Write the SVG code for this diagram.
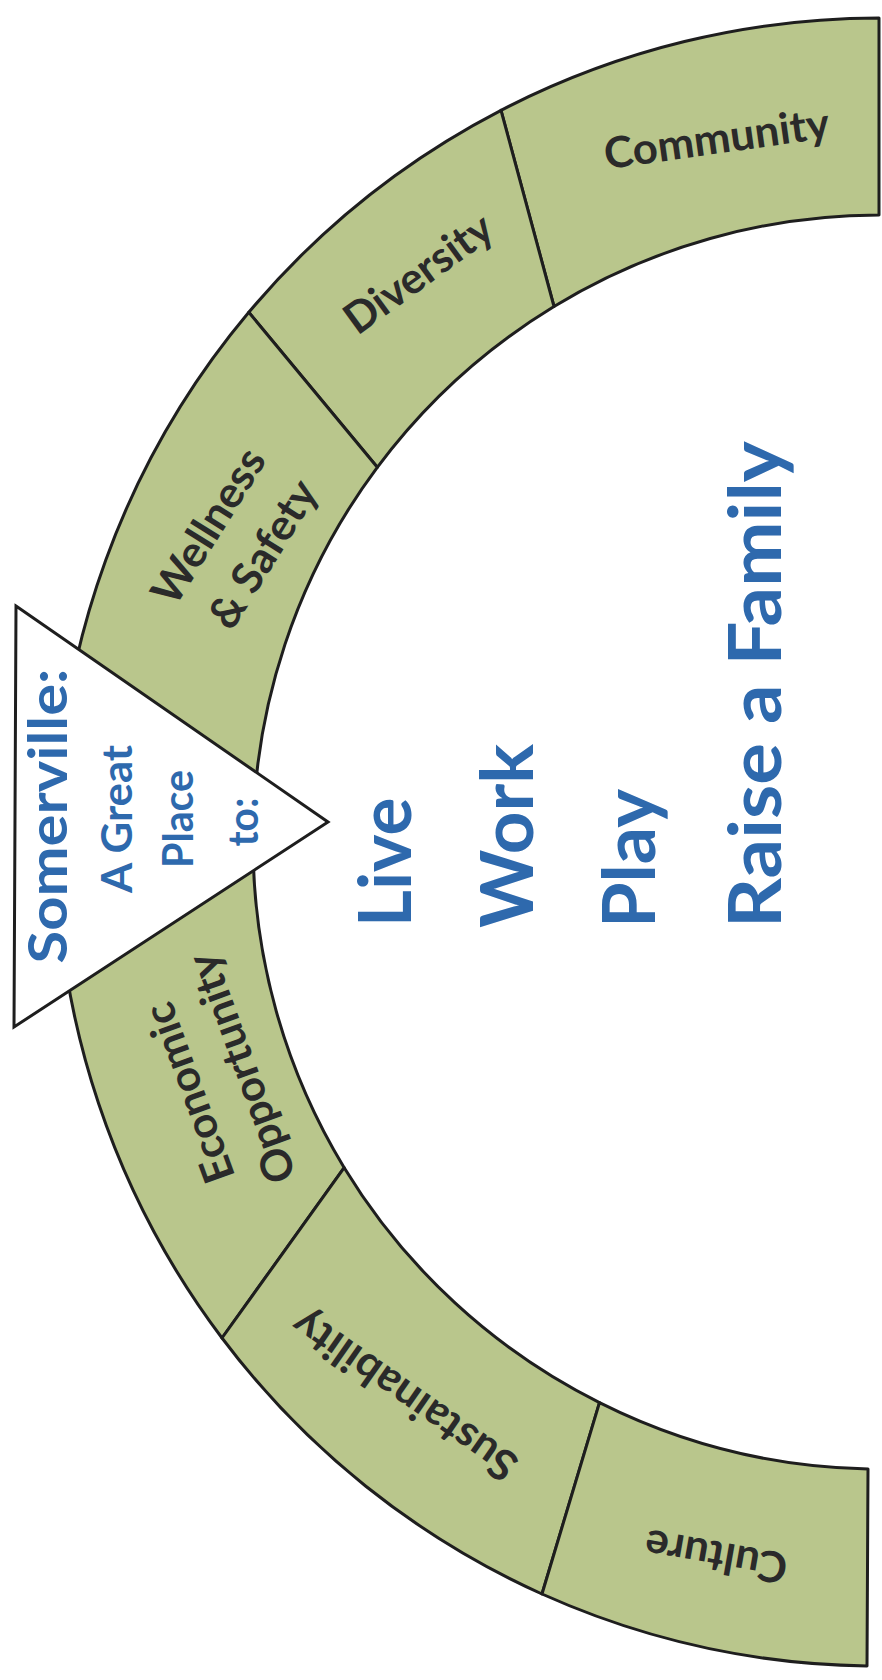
<svg xmlns="http://www.w3.org/2000/svg" width="882" height="1680" viewBox="0 0 882 1680">
  <style>
    .seg { fill: #b9c68c; stroke: #1e1e1e; stroke-width: 3; stroke-linejoin: round; }
    .lbl { font-family: Lato, "Open Sans", "DejaVu Sans", sans-serif; font-weight: 700; font-size: 43px; fill: #2a2a2a; text-anchor: middle; }
    .tri { fill: #ffffff; stroke: #1e1e1e; stroke-width: 3; stroke-linejoin: miter; }
    .blue { font-family: Lato, "Open Sans", "DejaVu Sans", sans-serif; font-weight: 700; fill: #2e69ad; }
    .tt { font-size: 42px; text-anchor: middle; }
    .big { font-size: 72px; text-anchor: start; }
  </style>
  <rect x="0" y="0" width="882" height="1680" fill="#ffffff"/>

  <g id="community">
    <path class="seg" d="M879,18 A824,824 0 0,0 501,110.3 L554,306.5 A627,627 0 0,1 879,215 Z"/>
    <text class="lbl" transform="translate(716.5,138) rotate(-8)" y="15.5" textLength="227" lengthAdjust="spacingAndGlyphs">Community</text>
  </g>
  <g id="diversity">
    <path class="seg" d="M501,110.3 A824,824 0 0,0 248.8,312.3 L377.3,467.3 A627,627 0 0,1 554,306.5 Z"/>
    <text class="lbl" transform="translate(418,273) rotate(-36)" y="15.5" textLength="172" lengthAdjust="spacingAndGlyphs">Diversity</text>
  </g>
  <g id="wellness-safety">
    <path class="seg" d="M248.8,312.3 A824,824 0 0,0 56,842 L253,842 A627,627 0 0,1 377.3,467.3 Z"/>
    <text class="lbl" transform="translate(236.5,537.5) rotate(-58)">
      <tspan x="0" y="-15" textLength="175" lengthAdjust="spacingAndGlyphs">Wellness</tspan>
      <tspan x="0" y="46" textLength="166" lengthAdjust="spacingAndGlyphs">&amp; Safety</tspan>
    </text>
  </g>
  <g id="economic-opportunity">
    <path class="seg" d="M56,842 A824,824 0 0,0 222,1338 L344.2,1167.7 A627,627 0 0,1 253,842 Z"/>
    <text class="lbl" transform="translate(214,1078.5) rotate(-110)">
      <tspan x="0" y="-13.3" textLength="188" lengthAdjust="spacingAndGlyphs">Economic</tspan>
      <tspan x="0" y="44.3" textLength="241" lengthAdjust="spacingAndGlyphs">Opportunity</tspan>
    </text>
  </g>
  <g id="sustainability">
    <path class="seg" d="M222,1338 A824,824 0 0,0 542,1594 L599.5,1402.6 A627,627 0 0,1 344.2,1167.7 Z"/>
    <text class="lbl" transform="translate(404,1396) rotate(-145)" y="15.5" textLength="264" lengthAdjust="spacingAndGlyphs">Sustainability</text>
  </g>
  <g id="culture">
    <path class="seg" d="M542,1594 A824,824 0 0,0 867,1666 L868,1469 A627,627 0 0,1 599.5,1402.6 Z"/>
    <text class="lbl" transform="translate(716,1557) rotate(-170)" y="15.5" textLength="144" lengthAdjust="spacingAndGlyphs">Culture</text>
  </g>

  <g id="somerville">
    <polygon class="tri" points="16,606 328,822 14,1027"/>
    <text class="blue" transform="translate(67,816) rotate(-90)" font-size="54" text-anchor="middle" textLength="295" lengthAdjust="spacingAndGlyphs">Somerville:</text>
    <text class="blue tt" transform="translate(132,819) rotate(-90)" textLength="148" lengthAdjust="spacingAndGlyphs">A Great</text>
    <text class="blue tt" transform="translate(193,819) rotate(-90)" textLength="98" lengthAdjust="spacingAndGlyphs">Place</text>
    <text class="blue tt" transform="translate(258,822) rotate(-90)" textLength="49" lengthAdjust="spacingAndGlyphs">to:</text>
  </g>

  <g id="activities">
    <text class="blue big" transform="translate(411,927) rotate(-90)" textLength="129.5" lengthAdjust="spacingAndGlyphs">Live</text>
    <text class="blue big" transform="translate(533,928) rotate(-90)" textLength="184" lengthAdjust="spacingAndGlyphs">Work</text>
    <text class="blue big" transform="translate(655,928) rotate(-90)" textLength="139" lengthAdjust="spacingAndGlyphs">Play</text>
    <text class="blue big" transform="translate(781,928) rotate(-90)" textLength="487" lengthAdjust="spacingAndGlyphs">Raise a Family</text>
  </g>

  <g id="connectors"></g>
</svg>
